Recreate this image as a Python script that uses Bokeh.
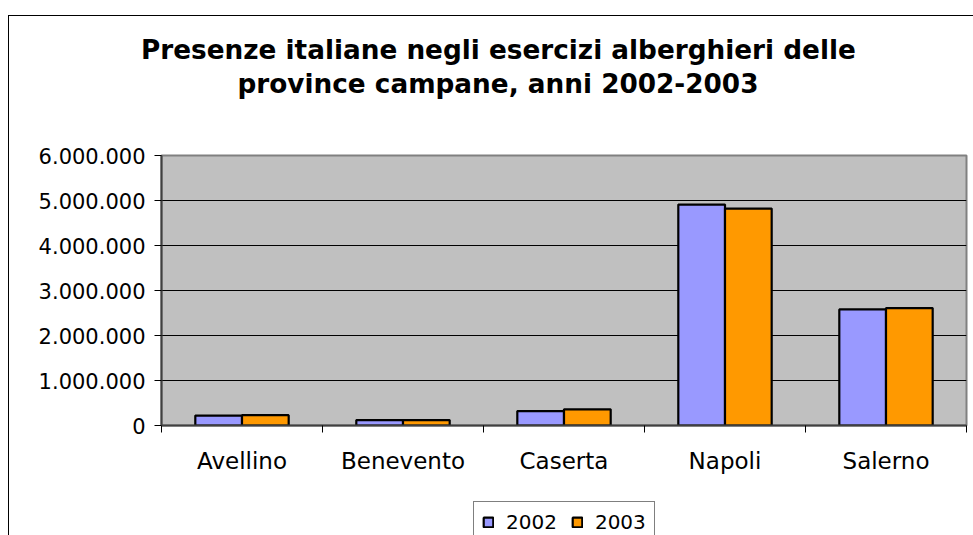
from bokeh.plotting import figure
from bokeh.models import (FixedTicker, Legend, LegendItem, Title, LinearAxis,
                          ColumnDataSource, Range1d, InlineStyleSheet)
from bokeh.layouts import column
from bokeh.embed import file_html
from bokeh.resources import INLINE

# ---- data ----
provinces = ["Avellino", "Benevento", "Caserta", "Napoli", "Salerno"]
years = ["2002", "2003"]
values_2002 = [220000, 120000, 320000, 4910000, 2580000]
values_2003 = [230000, 120000, 360000, 4820000, 2610000]
y_ticks = [0, 1000000, 2000000, 3000000, 4000000, 5000000, 6000000]
title_lines = ["Presenze italiane negli esercizi alberghieri delle",
               "province campane, anni 2002-2003"]

colors = ["#9999FF", "#FF9900"]
FONT = "DejaVu Sans"

W = 973
H_MAIN, H_LEG = 501, 34
LEFT, RIGHT, TOP, BOTTOM = 161, 7, 155, 76

centers = [i + 0.5 for i in range(len(provinces))]
bar_w = 0.29
off = bar_w / 2

src = ColumnDataSource(dict(
    x1=[c - off for c in centers],
    x2=[c + off for c in centers],
    v1=values_2002,
    v2=values_2003,
))

border_main = InlineStyleSheet(css="""
:host::after {
  content: ""; position: absolute;
  left: 8px; top: 15px; right: 0px; bottom: 0px;
  border-left: 1.5px solid #000; border-top: 1.5px solid #000;
  pointer-events: none;
}
""")
border_leg = InlineStyleSheet(css="""
:host::after {
  content: ""; position: absolute;
  left: 8px; top: 0px; right: 0px; bottom: 0px;
  border-left: 1.5px solid #000;
  pointer-events: none;
}
""")

p = figure(width=W, height=H_MAIN, output_backend="svg", toolbar_location=None,
           x_range=Range1d(0, len(provinces)), y_range=Range1d(0, 6000000),
           min_border_left=LEFT, min_border_right=RIGHT,
           min_border_top=TOP, min_border_bottom=BOTTOM,
           stylesheets=[border_main])
p.title.visible = False

p.background_fill_color = "#C0C0C0"
p.border_fill_color = "white"
p.outline_line_color = "#808080"
p.outline_line_width = 2

r1 = p.vbar(x="x1", top="v1", width=bar_w, source=src, fill_color=colors[0],
            line_color="black", line_width=2.2)
r2 = p.vbar(x="x2", top="v2", width=bar_w, source=src, fill_color=colors[1],
            line_color="black", line_width=2.2)

# x axis: labels at centers, ticks at category boundaries (minor)
p.xaxis.ticker = FixedTicker(ticks=centers,
                             minor_ticks=list(range(len(provinces) + 1)))
p.xaxis.major_label_overrides = {c: n for c, n in zip(centers, provinces)}
p.xaxis.major_tick_out = 0
p.xaxis.major_tick_in = 0
p.xaxis.minor_tick_out = 7
p.xaxis.minor_tick_in = 0
p.xaxis.minor_tick_line_color = "black"
p.xaxis.axis_line_color = "#404040"
p.xaxis.axis_line_width = 2
p.xaxis.major_label_text_font = FONT
p.xaxis.major_label_text_font_size = "23px"
p.xaxis.major_label_text_color = "black"
p.xaxis.major_label_standoff = 15
p.xgrid.visible = False

p.yaxis.ticker = FixedTicker(ticks=y_ticks, minor_ticks=[])
p.yaxis.major_label_overrides = {v: f"{v:,}".replace(",", ".") for v in y_ticks}
p.yaxis.major_tick_out = 7
p.yaxis.major_tick_in = 0
p.yaxis.major_tick_line_color = "black"
p.yaxis.axis_line_color = "#404040"
p.yaxis.axis_line_width = 2
p.yaxis.major_label_text_font = FONT
p.yaxis.major_label_text_font_size = "21px"
p.yaxis.major_label_text_color = "black"
p.yaxis.major_label_standoff = 9
p.ygrid.grid_line_color = "black"
p.ygrid.grid_line_width = 1

# spacer (an invisible axis with one unlabeled tick) between frame and title
spacer = LinearAxis(ticker=FixedTicker(ticks=[centers[0]], minor_ticks=[]),
                    major_label_overrides={centers[0]: ""},
                    axis_line_color=None, major_tick_line_color=None,
                    minor_tick_line_color=None, major_tick_in=0,
                    major_tick_out=55, minor_tick_in=0, minor_tick_out=0,
                    major_label_standoff=0, major_label_text_font_size="1px")
p.add_layout(spacer, "above")
p.add_layout(Title(text=title_lines[1], align="left", offset=76,
                   vertical_align="bottom", standoff=4,
                   text_font=FONT, text_font_style="bold",
                   text_font_size="26.3px", text_color="black"), "above")
p.add_layout(Title(text=title_lines[0], align="left", offset=-20.5,
                   vertical_align="bottom", standoff=0,
                   text_font=FONT, text_font_style="bold",
                   text_font_size="26.3px", text_color="black"), "above")

# legend strip below the chart (hidden renderers give the legend its swatches)
q = figure(width=W, height=H_LEG, output_backend="svg", toolbar_location=None,
           x_range=Range1d(0, 1), y_range=Range1d(-2, -1),
           min_border_left=0, min_border_right=0, min_border_top=0,
           min_border_bottom=0, stylesheets=[border_leg])
q.title.visible = False
q.xaxis.visible = False
q.yaxis.visible = False
q.grid.visible = False
q.outline_line_color = None
q.background_fill_color = "white"
q.border_fill_color = "white"
k1 = q.vbar(x="x1", top="v1", width=bar_w, source=src, fill_color=colors[0],
            line_color="black", line_width=2.2, visible=False)
k2 = q.vbar(x="x2", top="v2", width=bar_w, source=src, fill_color=colors[1],
            line_color="black", line_width=2.2, visible=False)
legend = Legend(items=[LegendItem(label=years[0], renderers=[k1]),
                       LegendItem(label=years[1], renderers=[k2])],
                location=(312, -8), orientation="horizontal",
                label_text_font=FONT, label_text_font_size="20px",
                label_text_color="black",
                glyph_width=12, glyph_height=12, label_standoff=12,
                spacing=14, padding=8, margin=0,
                border_line_color="black", border_line_width=1.2,
                background_fill_color="white", background_fill_alpha=1,
                inactive_fill_alpha=0)
q.add_layout(legend)

layout = column(p, q, spacing=0)
open("out.html", "w").write(file_html(layout, INLINE))
